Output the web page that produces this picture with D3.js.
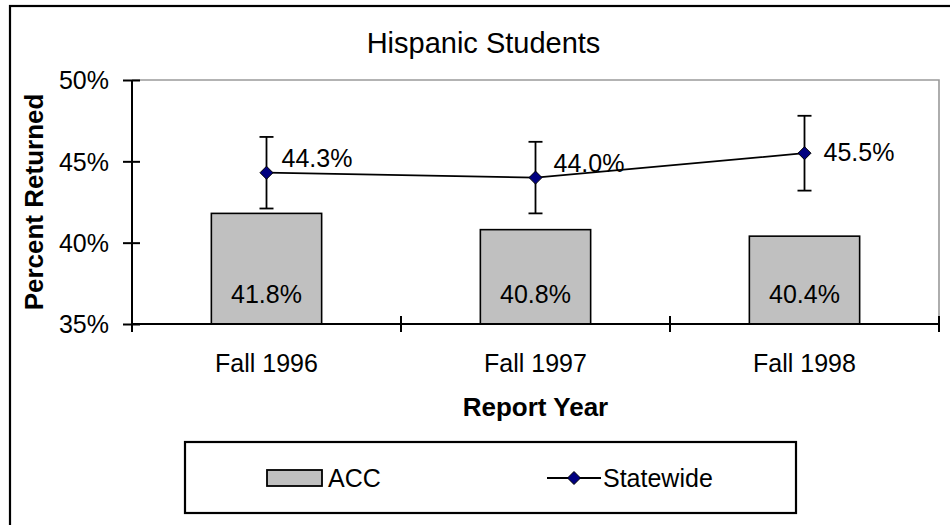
<!DOCTYPE html>
<html>
<head>
<meta charset="utf-8">
<script src="https://cdn.jsdelivr.net/npm/d3@7"></script>
<style>
  html, body { margin: 0; padding: 0; background: #fff; }
  svg { display: block; font-family: "Liberation Sans", Arial, sans-serif; }
</style>
</head>
<body>
<svg id="chart" width="950" height="525"></svg>
<script>
// ---- data ----
const title = "Hispanic Students";
const categories = ["Fall 1996", "Fall 1997", "Fall 1998"];
const accValues = [0.418, 0.408, 0.404];
const statewideValues = [0.443, 0.440, 0.455];
const statewideError = [0.022, 0.022, 0.023];
const yTicks = [0.35, 0.40, 0.45, 0.50];
const seriesNames = ["ACC", "Statewide"];
const xAxisTitle = "Report Year";
const yAxisTitle = "Percent Returned";

// ---- layout ----
const W = 950, H = 525;
const plot = { left: 132, right: 939, top: 80, bottom: 324 };
const lineLabelDx = [15, 18, 19];
const lineLabelDy = [-6, -6, 8];

const svg = d3.select("#chart");

// outer border (extends past right/bottom edge)
svg.append("rect")
  .attr("x", 10).attr("y", 6)
  .attr("width", W + 20).attr("height", H + 20)
  .attr("fill", "#fff").attr("stroke", "#000").attr("stroke-width", 2.2);

const x = d3.scaleBand().domain(categories).range([plot.left, plot.right]).padding(0);
const y = d3.scaleLinear().domain([0.35, 0.50]).range([plot.bottom, plot.top]);
const fmt = d3.format(".1%");

// title
svg.append("text")
  .attr("x", (plot.left + plot.right) / 2 - 52).attr("y", 53)
  .attr("text-anchor", "middle")
  .attr("font-size", 29)
  .text(title);

// plot area top/right border (gray)
svg.append("path")
  .attr("d", `M${plot.left},${plot.top}H${plot.right}V${plot.bottom}`)
  .attr("fill", "none").attr("stroke", "#9a9a9a").attr("stroke-width", 1.6);

// bars
const barW = x.bandwidth() * 0.41;
svg.append("g").selectAll("rect")
  .data(categories)
  .join("rect")
  .attr("x", (d) => x(d) + x.bandwidth() / 2 - barW / 2)
  .attr("y", (d, i) => y(accValues[i]))
  .attr("width", barW)
  .attr("height", (d, i) => y(0.35) - y(accValues[i]))
  .attr("fill", "#c0c0c0")
  .attr("stroke", "#000").attr("stroke-width", 1.6);

// bar labels
svg.append("g").selectAll("text")
  .data(categories)
  .join("text")
  .attr("x", (d) => x(d) + x.bandwidth() / 2)
  .attr("y", 303)
  .attr("text-anchor", "middle")
  .attr("font-size", 25)
  .text((d, i) => fmt(accValues[i]));

// axes
const yAxis = d3.axisLeft(y).tickValues(yTicks).tickSize(0).tickFormat(d3.format(".0%"));
const gy = svg.append("g").attr("transform", `translate(${plot.left},0)`).call(yAxis);
gy.select(".domain").remove();
gy.selectAll("text").attr("font-size", 25).attr("fill", "#000")
  .attr("x", -23).attr("dy", "0.35em").style("font-family", "Liberation Sans, Arial, sans-serif");
gy.selectAll(".tick").append("line")
  .attr("x1", -9).attr("x2", 8).attr("stroke", "#000").attr("stroke-width", 2);

const xAxis = d3.axisBottom(x).tickSize(0);
const gx = svg.append("g").attr("transform", `translate(0,${plot.bottom})`).call(xAxis);
gx.select(".domain").remove();
gx.selectAll("text").attr("font-size", 25).attr("fill", "#000")
  .attr("y", 47.5).attr("dy", 0).style("font-family", "Liberation Sans, Arial, sans-serif");

// category boundary ticks (crossing)
const boundaries = categories.map((d) => x(d)).concat([plot.right]);
svg.append("g").selectAll("line")
  .data(boundaries)
  .join("line")
  .attr("x1", (d) => d).attr("x2", (d) => d)
  .attr("y1", plot.bottom - 8).attr("y2", plot.bottom + 8)
  .attr("stroke", "#000").attr("stroke-width", 2);

// axis lines
svg.append("line").attr("x1", plot.left).attr("x2", plot.left)
  .attr("y1", plot.top).attr("y2", plot.bottom).attr("stroke", "#000").attr("stroke-width", 2);
svg.append("line").attr("x1", plot.left).attr("x2", plot.right)
  .attr("y1", plot.bottom).attr("y2", plot.bottom).attr("stroke", "#000").attr("stroke-width", 2);

// axis titles
svg.append("text")
  .attr("x", (plot.left + plot.right) / 2).attr("y", 416)
  .attr("text-anchor", "middle").attr("font-size", 26).attr("font-weight", "bold")
  .text(xAxisTitle);
svg.append("text")
  .attr("transform", `translate(43,${(plot.top + plot.bottom) / 2}) rotate(-90)`)
  .attr("text-anchor", "middle").attr("font-size", 26).attr("font-weight", "bold")
  .text(yAxisTitle);

// statewide line
const cx = (d) => x(d) + x.bandwidth() / 2;
const line = d3.line().x((d, i) => cx(categories[i])).y((d) => y(d));
svg.append("path")
  .datum(statewideValues)
  .attr("d", line)
  .attr("fill", "none").attr("stroke", "#000").attr("stroke-width", 1.8);

// error bars
const eb = svg.append("g").attr("stroke", "#000").attr("stroke-width", 1.8);
categories.forEach((c, i) => {
  const px = cx(c);
  const top = y(statewideValues[i] + statewideError[i]);
  const bot = y(statewideValues[i] - statewideError[i]);
  eb.append("line").attr("x1", px).attr("x2", px).attr("y1", top).attr("y2", bot);
  eb.append("line").attr("x1", px - 7).attr("x2", px + 7).attr("y1", top).attr("y2", top);
  eb.append("line").attr("x1", px - 7).attr("x2", px + 7).attr("y1", bot).attr("y2", bot);
});

// markers
const diamond = (s) => `M0,${-s}L${s},0L0,${s}L${-s},0Z`;
svg.append("g").selectAll("path")
  .data(statewideValues)
  .join("path")
  .attr("transform", (d, i) => `translate(${cx(categories[i])},${y(d)})`)
  .attr("d", diamond(6.5))
  .attr("fill", "#000080").attr("stroke", "#000").attr("stroke-width", 1);

// line labels
svg.append("g").selectAll("text")
  .data(statewideValues)
  .join("text")
  .attr("x", (d, i) => cx(categories[i]) + lineLabelDx[i])
  .attr("y", (d, i) => y(d) + lineLabelDy[i])
  .attr("font-size", 25)
  .text((d) => fmt(d));

// legend
const lg = svg.append("g");
lg.append("rect").attr("x", 185).attr("y", 442).attr("width", 611).attr("height", 71)
  .attr("fill", "#fff").attr("stroke", "#000").attr("stroke-width", 2.2);
lg.append("rect").attr("x", 267).attr("y", 470).attr("width", 55).attr("height", 16)
  .attr("fill", "#c0c0c0").attr("stroke", "#000").attr("stroke-width", 1.8);
lg.append("text").attr("x", 328).attr("y", 487).attr("font-size", 25).text(seriesNames[0]);
lg.append("line").attr("x1", 547).attr("x2", 601).attr("y1", 478).attr("y2", 478)
  .attr("stroke", "#000").attr("stroke-width", 1.8);
lg.append("path").attr("transform", "translate(574,478)").attr("d", diamond(6.5))
  .attr("fill", "#000080").attr("stroke", "#000").attr("stroke-width", 1);
lg.append("text").attr("x", 603).attr("y", 487).attr("font-size", 25).text(seriesNames[1]);
</script>
</body>
</html>
